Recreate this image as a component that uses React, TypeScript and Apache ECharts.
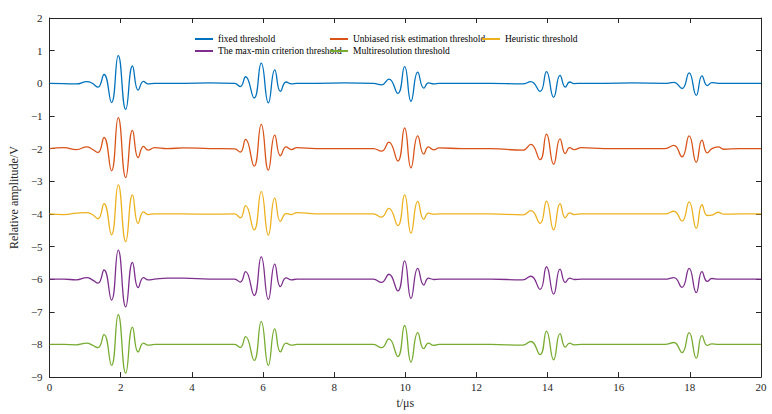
import React, { useEffect, useRef } from "react";
import * as echarts from "echarts";

// Time knots (µs): baseline points, then the extrema of each wave packet
const tKnots = [
  0, 0.4, 0.75, 1.05, 1.2,
  1.36, 1.53, 1.74, 1.93, 2.14, 2.33, 2.49, 2.64, 2.77, 2.95,
  3.31, 3.77, 4.5, 5.2,
  5.36, 5.51, 5.75, 5.95, 6.15, 6.33, 6.49, 6.65, 6.8, 6.95,
  7.5, 8.3, 9.1,
  9.33, 9.54, 9.79, 9.98, 10.16, 10.35, 10.52, 10.65, 10.8, 10.95,
  11.6, 12.4, 13.3,
  13.53, 13.79, 13.97, 14.17, 14.35, 14.5, 14.62, 14.75, 14.95,
  15.6, 16.4, 17.3,
  17.55, 17.78, 17.98, 18.18, 18.34, 18.49, 18.62, 18.8, 18.95,
  19.4, 20,
];

const fixedVals = [
  0, -0.01, -0.02, 0.05, 0.0,
  -0.12, 0.27, -0.59, 0.85, -0.8, 0.53, -0.21, 0.06, -0.02, 0.0,
  0.0, 0.0, 0.01, 0.0,
  -0.1, 0.2, -0.45, 0.62, -0.6, 0.41, -0.25, 0.04, -0.02, 0.0,
  0.0, 0.01, 0.0,
  -0.05, 0.13, -0.31, 0.51, -0.55, 0.34, -0.15, 0.01, -0.02, 0.0,
  0.0, 0.0, -0.02,
  0.05, -0.25, 0.36, -0.43, 0.24, -0.12, 0.04, -0.01, 0.0,
  0.0, 0.01, 0.0,
  0.03, -0.16, 0.32, -0.37, 0.23, -0.07, 0.02, 0.0, 0.0,
  0.0, 0.0,
];

const unbiasedVals = [
  -2.0, -1.97, -2.03, -1.95, -2.02,
  -2.12, -1.66, -2.68, -1.05, -2.89, -1.44, -2.28, -1.93, -2.05, -1.97,
  -2.0, -1.98, -2.0, -2.01,
  -2.11, -1.72, -2.54, -1.26, -2.66, -1.59, -2.22, -1.95, -2.03, -1.97,
  -2.0, -2.0, -2.0,
  -2.08, -1.8, -2.38, -1.37, -2.59, -1.61, -2.17, -1.95, -2.04, -1.98,
  -2.0, -2.0, -2.05,
  -1.87, -2.34, -1.56, -2.48, -1.7, -2.15, -1.97, -2.03, -1.97,
  -2.0, -2.0, -2.0,
  -1.9, -2.25, -1.61, -2.42, -1.74, -2.13, -2.0, -1.95, -2.02,
  -2.0, -2.0,
];

const heuristicVals = [
  -4.0, -4.02, -3.98, -3.96, -4.02,
  -4.15, -3.69, -4.64, -3.11, -4.85, -3.42, -4.29, -3.94, -4.02, -4.0,
  -4.0, -4.0, -4.01, -4.0,
  -4.12, -3.75, -4.49, -3.32, -4.65, -3.52, -4.23, -3.99, -4.02, -3.96,
  -4.0, -4.0, -4.0,
  -4.1, -3.83, -4.36, -3.42, -4.59, -3.62, -4.17, -3.98, -4.01, -4.0,
  -4.0, -4.0, -4.03,
  -3.9, -4.29, -3.61, -4.49, -3.69, -4.12, -3.97, -4.02, -4.0,
  -4.0, -4.0, -4.0,
  -3.92, -4.22, -3.63, -4.44, -3.72, -4.05, -4.04, -3.95, -4.01,
  -4.0, -4.0,
];

const maxMinVals = [
  -6.0, -6.0, -6.02, -5.95, -6.02,
  -6.12, -5.72, -6.64, -5.11, -6.85, -5.49, -6.26, -5.95, -6.02, -6.0,
  -5.97, -5.97, -6.0, -6.0,
  -6.09, -5.77, -6.5, -5.32, -6.62, -5.54, -6.23, -5.96, -6.02, -6.0,
  -6.0, -6.0, -6.0,
  -6.1, -5.85, -6.36, -5.44, -6.59, -5.67, -6.18, -5.97, -6.01, -6.0,
  -6.0, -6.0, -6.02,
  -5.91, -6.31, -5.62, -6.46, -5.69, -6.1, -5.97, -6.01, -6.0,
  -6.0, -6.0, -6.0,
  -5.95, -6.25, -5.67, -6.41, -5.77, -6.07, -5.98, -6.0, -6.0,
  -6.0, -6.0,
];

const multiresVals = [
  -8.0, -8.0, -8.01, -7.96, -8.02,
  -8.1, -7.7, -8.64, -7.09, -8.88, -7.47, -8.23, -7.96, -8.02, -8.0,
  -8.0, -8.0, -8.0, -8.0,
  -8.09, -7.76, -8.49, -7.3, -8.64, -7.52, -8.23, -7.96, -8.02, -8.0,
  -8.0, -8.0, -8.0,
  -8.1, -7.83, -8.37, -7.42, -8.54, -7.64, -8.13, -7.96, -8.03, -8.0,
  -8.0, -8.0, -8.02,
  -7.91, -8.31, -7.59, -8.47, -7.67, -8.08, -7.96, -8.01, -8.0,
  -8.0, -8.0, -8.0,
  -7.94, -8.25, -7.64, -8.42, -7.73, -8.03, -7.98, -8.0, -8.0,
  -8.0, -8.0,
];

const seriesNames = [
  "fixed threshold",
  "Unbiased risk estimation threshold",
  "Heuristic threshold",
  "The max-min criterion threshold",
  "Multiresolution threshold",
];
const seriesValues = [fixedVals, unbiasedVals, heuristicVals, maxMinVals, multiresVals];
const seriesColors = ["#0072BD", "#D95319", "#EDB120", "#7E2F8E", "#77AC30"];

const FONT = "Liberation Serif";

export default function App() {
  const ref = useRef<HTMLDivElement>(null);

  useEffect(() => {
    if (!ref.current) return;
    const chart = echarts.init(ref.current, undefined, { renderer: "svg" });

    const minusFmt = (v: number) => String(v).replace("-", "\u2212");

    const legendPos = [
      { left: 195, top: 34 },
      { left: 330, top: 34 },
      { left: 482, top: 34 },
      { left: 195, top: 46 },
      { left: 330, top: 46 },
    ];

    const axisLineStyle = { color: "#262626", width: 1 };
    const tickStyle = { color: "#262626", width: 1 };

    const mkX = (pos: string, main: boolean) => ({
      type: "value",
      position: pos,
      min: 0,
      max: 20,
      interval: 2,
      name: main ? "t/\u03bcs" : "",
      nameLocation: "middle",
      nameGap: 17,
      nameTextStyle: { fontFamily: FONT, fontSize: 12, color: "#262626" },
      axisLine: { show: true, onZero: false, lineStyle: axisLineStyle },
      axisTick: { show: true, inside: true, length: 5, lineStyle: tickStyle },
      axisLabel: main
        ? { show: true, fontFamily: FONT, fontSize: 11, color: "#262626", margin: 4 }
        : { show: false },
      splitLine: { show: false },
    });
    const mkY = (pos: string, main: boolean) => ({
      type: "value",
      position: pos,
      min: -9,
      max: 2,
      interval: 1,
      name: main ? "Relative amplitude/V" : "",
      nameLocation: "middle",
      nameGap: 24,
      nameTextStyle: { fontFamily: FONT, fontSize: 12, color: "#262626" },
      axisLine: { show: true, onZero: false, lineStyle: axisLineStyle },
      axisTick: { show: true, inside: true, length: 5, lineStyle: tickStyle },
      axisLabel: main
        ? { show: true, fontFamily: FONT, fontSize: 11, color: "#262626", margin: 7, formatter: minusFmt }
        : { show: false },
      splitLine: { show: false },
    });

    chart.setOption({
      animation: false,
      backgroundColor: "#ffffff",
      textStyle: { fontFamily: FONT },
      grid: { left: 44, right: 11, top: 18, bottom: 36 },
      legend: seriesNames.map((n, i) => ({
        data: [n],
        left: legendPos[i].left,
        top: legendPos[i].top,
        orient: "horizontal",
        icon: "rect",
        itemWidth: 18,
        itemHeight: 2,
        padding: 0,
        textStyle: { fontFamily: FONT, fontSize: 9.5, color: "#000" },
        selectedMode: false,
      })),
      xAxis: [mkX("bottom", true), mkX("top", false)],
      yAxis: [mkY("left", true), mkY("right", false)],
      series: seriesNames.map((n, i) => ({
        name: n,
        type: "line",
        xAxisIndex: 0,
        yAxisIndex: 0,
        data: tKnots.map((t, k) => [t, seriesValues[i][k]]),
        smooth: 0.5,
        showSymbol: false,
        symbol: "none",
        color: seriesColors[i],
        lineStyle: { color: seriesColors[i], width: 1.3 },
      })),
    });

    return () => chart.dispose();
  }, []);

  return <div ref={ref} style={{ width: 772, height: 414, position: "absolute", left: 0, top: 0 }} />;
}
